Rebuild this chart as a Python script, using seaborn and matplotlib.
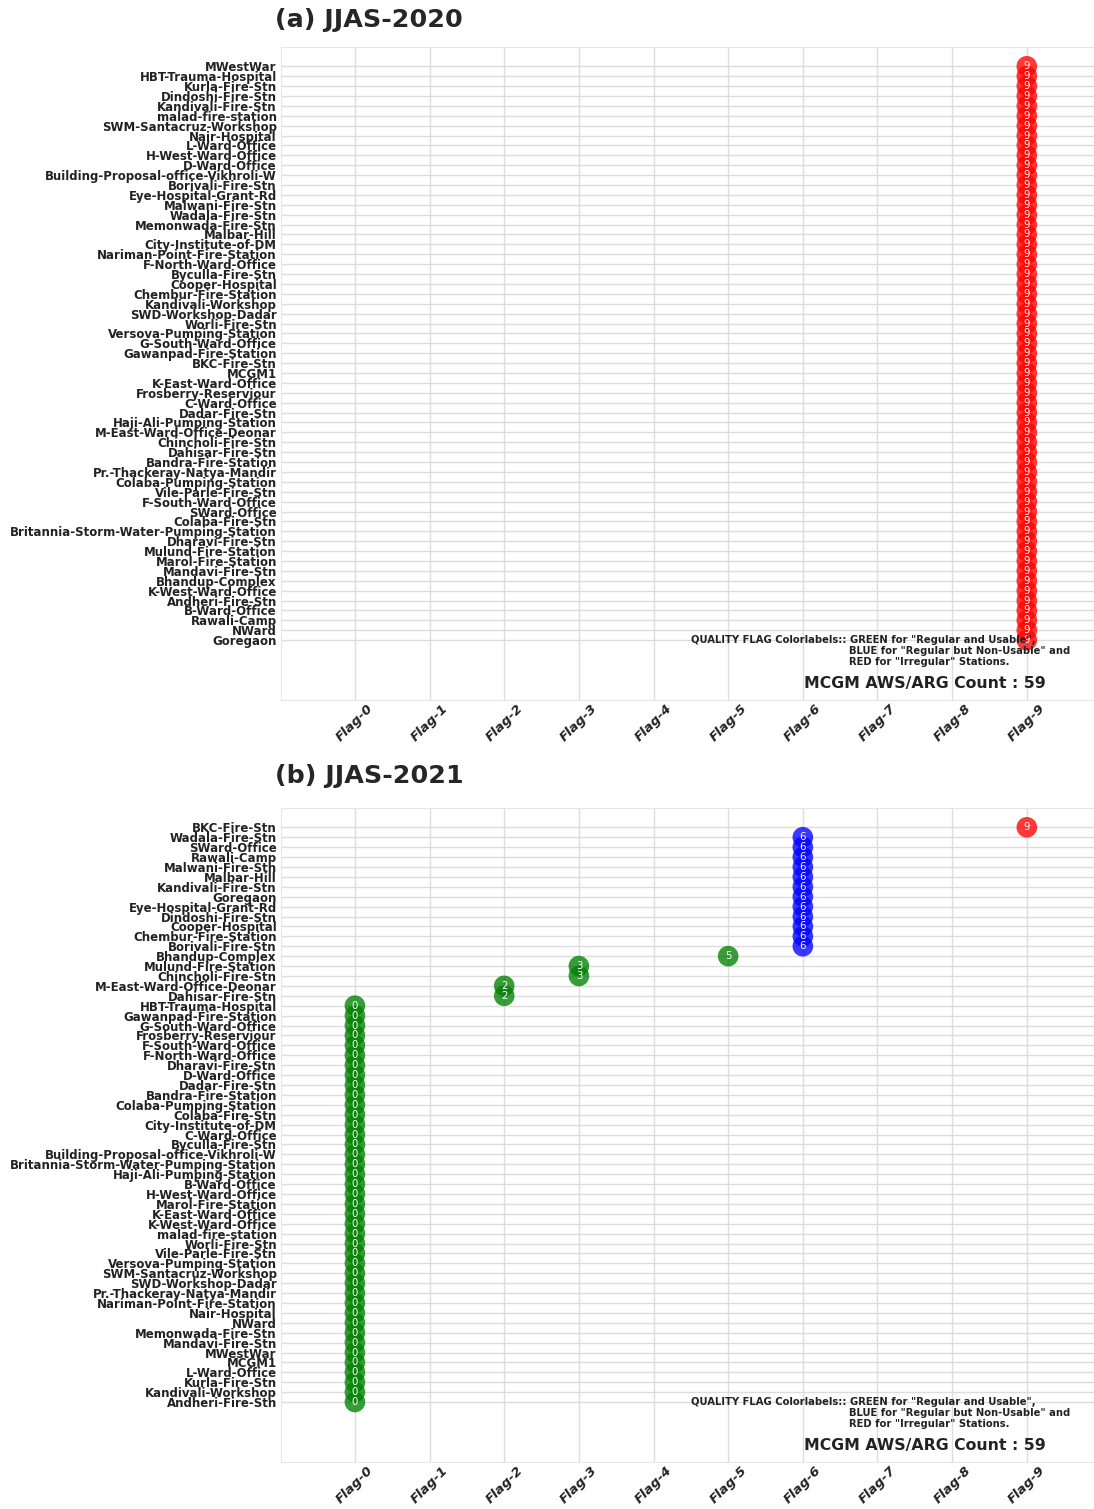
import seaborn as sns
import matplotlib.pyplot as plt
import pandas as pd

# ---------------- data ----------------
stations_2020 = [
    "MWestWar", "HBT-Trauma-Hospital", "Kurla-Fire-Stn", "Dindoshi-Fire-Stn",
    "Kandivali-Fire-Stn", "malad-fire-station", "SWM-Santacruz-Workshop",
    "Nair-Hospital", "L-Ward-Office", "H-West-Ward-Office", "D-Ward-Office",
    "Building-Proposal-office-Vikhroli-W", "Borivali-Fire-Stn",
    "Eye-Hospital-Grant-Rd", "Malwani-Fire-Stn", "Wadala-Fire-Stn",
    "Memonwada-Fire-Stn", "Malbar-Hill", "City-Institute-of-DM",
    "Nariman-Point-Fire-Station", "F-North-Ward-Office", "Byculla-Fire-Stn",
    "Cooper-Hospital", "Chembur-Fire-Station", "Kandivali-Workshop",
    "SWD-Workshop-Dadar", "Worli-Fire-Stn", "Versova-Pumping-Station",
    "G-South-Ward-Office", "Gawanpad-Fire-Station", "BKC-Fire-Stn", "MCGM1",
    "K-East-Ward-Office", "Frosberry-Reserviour", "C-Ward-Office",
    "Dadar-Fire-Stn", "Haji-Ali-Pumping-Station", "M-East-Ward-Office-Deonar",
    "Chincholi-Fire-Stn", "Dahisar-Fire-Stn", "Bandra-Fire-Station",
    "Pr.-Thackeray-Natya-Mandir", "Colaba-Pumping-Station",
    "Vile-Parle-Fire-Stn", "F-South-Ward-Office", "SWard-Office",
    "Colaba-Fire-Stn", "Britannia-Storm-Water-Pumping-Station",
    "Dharavi-Fire-Stn", "Mulund-Fire-Station", "Marol-Fire-Station",
    "Mandavi-Fire-Stn", "Bhandup-Complex", "K-West-Ward-Office",
    "Andheri-Fire-Stn", "B-Ward-Office", "Rawali-Camp", "NWard", "Goregaon",
]
flags_2020 = [9] * 59
quality_2020 = ["Irregular"] * 59

stations_2021 = [
    "BKC-Fire-Stn", "Wadala-Fire-Stn", "SWard-Office", "Rawali-Camp",
    "Malwani-Fire-Stn", "Malbar-Hill", "Kandivali-Fire-Stn", "Goregaon",
    "Eye-Hospital-Grant-Rd", "Dindoshi-Fire-Stn", "Cooper-Hospital",
    "Chembur-Fire-Station", "Borivali-Fire-Stn", "Bhandup-Complex",
    "Mulund-Fire-Station", "Chincholi-Fire-Stn", "M-East-Ward-Office-Deonar",
    "Dahisar-Fire-Stn", "HBT-Trauma-Hospital", "Gawanpad-Fire-Station",
    "G-South-Ward-Office", "Frosberry-Reserviour", "F-South-Ward-Office",
    "F-North-Ward-Office", "Dharavi-Fire-Stn", "D-Ward-Office",
    "Dadar-Fire-Stn", "Bandra-Fire-Station", "Colaba-Pumping-Station",
    "Colaba-Fire-Stn", "City-Institute-of-DM", "C-Ward-Office",
    "Byculla-Fire-Stn", "Building-Proposal-office-Vikhroli-W",
    "Britannia-Storm-Water-Pumping-Station", "Haji-Ali-Pumping-Station",
    "B-Ward-Office", "H-West-Ward-Office", "Marol-Fire-Station",
    "K-East-Ward-Office", "K-West-Ward-Office", "malad-fire-station",
    "Worli-Fire-Stn", "Vile-Parle-Fire-Stn", "Versova-Pumping-Station",
    "SWM-Santacruz-Workshop", "SWD-Workshop-Dadar",
    "Pr.-Thackeray-Natya-Mandir", "Nariman-Point-Fire-Station",
    "Nair-Hospital", "NWard", "Memonwada-Fire-Stn", "Mandavi-Fire-Stn",
    "MWestWar", "MCGM1", "L-Ward-Office", "Kurla-Fire-Stn",
    "Kandivali-Workshop", "Andheri-Fire-Stn",
]
flags_2021 = [9] + [6] * 12 + [5, 3, 3, 2, 2] + [0] * 41
quality_2021 = ["Irregular"] + ["Non-Usable"] * 12 + ["Usable"] * 46

flag_labels = [f"Flag-{i}" for i in range(10)]
palette = {"Usable": "green", "Non-Usable": "blue", "Irregular": "red"}

# ---------------- style ----------------
sns.set_style("whitegrid", {"grid.color": "#dcdcdc", "axes.edgecolor": "#e6e6e6"})
plt.rcParams["font.family"] = ["DejaVu Sans"]

W, H = 1094, 1509
fig = plt.figure(figsize=(W / 100, H / 100), dpi=100)
ax1 = fig.add_axes([281 / W, 1 - 700 / H, 1 - 281 / W, 653 / H])
ax2 = fig.add_axes([281 / W, 1 - 1462 / H, 1 - 281 / W, 654 / H])


def draw(ax, stations, flags, quality, title, title_y):
    df = pd.DataFrame({"Station": stations, "Flag": flags, "Quality": quality})
    sns.scatterplot(data=df, x="Flag", y="Station", hue="Quality",
                    palette=palette, s=220, alpha=0.78, edgecolor="none",
                    legend=False, ax=ax, zorder=3)
    for i, f in enumerate(flags):
        ax.text(f, i, str(f), color="white", ha="center", va="center",
                fontsize=7.3, zorder=4)
    n = len(stations)
    ax.set_ylim(n - 1 + 6.05, -1.95)
    ax.set_xlim(-0.99, 9.9)
    ax.set_xticks(range(10))
    ax.set_xticklabels(flag_labels, rotation=45, ha="center",
                       fontweight="bold", fontstyle="italic", fontsize=9.5,
                       color="#222222")
    ax.set_yticks(range(n))
    ax.set_yticklabels(stations, fontweight="bold", fontsize=8.5,
                       color="#222222")
    ax.tick_params(axis="y", length=0, pad=3)
    ax.tick_params(axis="x", length=0, pad=1.5)
    ax.set_xlabel("")
    ax.set_ylabel("")
    ax.grid(True, linewidth=1.0)
    ax.set_axisbelow(True)
    ax.text((691 - 281) / 813, (700 - 635) / 653,
            'QUALITY FLAG Colorlabels:: GREEN for "Regular and Usable",',
            transform=ax.transAxes, fontsize=7.2, fontweight="bold",
            va="top", ha="left", color="#222222", zorder=5)
    ax.text((849 - 281) / 813, (700 - 646) / 653,
            'BLUE for "Regular but Non-Usable" and',
            transform=ax.transAxes, fontsize=7.2, fontweight="bold",
            va="top", ha="left", color="#222222", zorder=5)
    ax.text((849 - 281) / 813, (700 - 657) / 653,
            'RED for "Irregular" Stations.',
            transform=ax.transAxes, fontsize=7.2, fontweight="bold",
            va="top", ha="left", color="#222222", zorder=5)
    ax.text((804 - 281) / 813, (700 - 684) / 653,
            f"MCGM AWS/ARG Count : {n}",
            transform=ax.transAxes, fontsize=11.3, fontweight="bold",
            va="center", ha="left", color="#222222", zorder=5)
    fig.text(275 / W, 1 - title_y / H, title, fontsize=18.3, fontweight="bold",
             va="center", ha="left")


draw(ax1, stations_2020, flags_2020, quality_2020, "(a) JJAS-2020", 20)
draw(ax2, stations_2021, flags_2021, quality_2021, "(b) JJAS-2021", 776)

fig.savefig("out.png", dpi=100)
